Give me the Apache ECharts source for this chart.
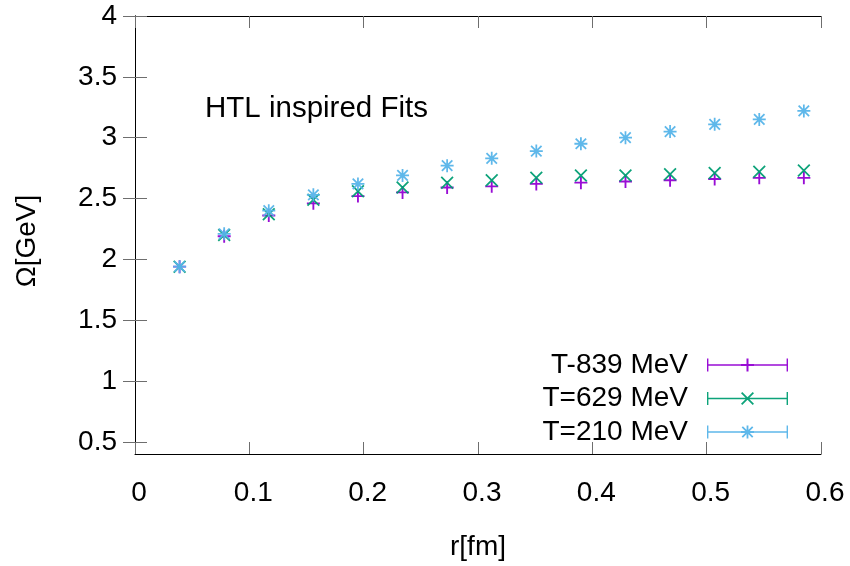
<!DOCTYPE html>
<html>
<head>
<meta charset="utf-8">
<script src="https://cdn.jsdelivr.net/npm/echarts@6/dist/echarts.min.js"></script>
<style>
html,body{margin:0;padding:0;background:#fff;}
#chart{width:850px;height:566px;}
</style>
</head>
<body>
<div id="chart"></div>
<script>
// ---- data ----
const rValues = [0.039, 0.078, 0.117, 0.156, 0.195, 0.234, 0.273, 0.312, 0.351, 0.390, 0.429, 0.468, 0.507, 0.546, 0.585];
const omegaT839 = [1.94, 2.19, 2.36, 2.46, 2.52, 2.55, 2.59, 2.60, 2.62, 2.63, 2.64, 2.65, 2.66, 2.67, 2.67];
const omegaT629 = [1.94, 2.20, 2.37, 2.49, 2.56, 2.59, 2.63, 2.65, 2.67, 2.69, 2.69, 2.70, 2.71, 2.72, 2.73];
const omegaT210 = [1.94, 2.21, 2.40, 2.53, 2.62, 2.69, 2.77, 2.83, 2.89, 2.95, 3.00, 3.05, 3.11, 3.15, 3.22];
const seriesNames = ['T-839 MeV', 'T=629 MeV', 'T=210 MeV'];
const yTickValues = [0.5, 1, 1.5, 2, 2.5, 3, 3.5, 4];
const annotation = 'HTL inspired Fits';
const xTitle = 'r[fm]';
const yTitle = 'Ω[GeV]';

// ---- styling ----
const FONT = 'Liberation Sans, Arial, Helvetica, sans-serif';
const colors = ['#9400d3', '#009e73', '#56b4e9'];

function rect(x0, y0, x1, y1) {
  return 'M' + x0 + ',' + y0 + 'H' + x1 + 'V' + y1 + 'H' + x0 + 'Z';
}
function plusPath(cx, cy, s, t) {
  const h = s / 2, ht = t / 2;
  return rect(cx - h, cy - ht, cx + h, cy + ht) + ' ' + rect(cx - ht, cy - h, cx + ht, cy + h);
}
function crossPath(cx, cy, s, t) {
  const h = s / 2, d = t / Math.SQRT2;
  const a = [cx - h, cy - h + d], b = [cx - h + d, cy - h], c = [cx + h, cy + h - d], e = [cx + h - d, cy + h];
  const p1 = 'M' + a + 'L' + b + 'L' + c + 'L' + e + 'Z';
  const f = [cx + h - d, cy - h], g = [cx + h, cy - h + d], k = [cx - h + d, cy + h], m = [cx - h, cy + h - d];
  const p2 = 'M' + f + 'L' + g + 'L' + k + 'L' + m + 'Z';
  return p1 + ' ' + p2;
}
function starPath(cx, cy, s, t) {
  return plusPath(cx, cy, s, t) + ' ' + crossPath(cx, cy, s * 0.9, t);
}
const markerPaths = [plusPath(7, 7, 14, 2), crossPath(7, 7, 14, 1.9), starPath(7, 7, 14, 1.9)];

// legend icon: errorbar-style sample 81 x 13
const LW = 81, LH = 13;
function legendBase() {
  return rect(0, 5.8, LW, 7.2) + ' ' + rect(0, 0, 1.4, LH) + ' ' + rect(LW - 1.4, 0, LW, LH);
}
const legendIcons = [
  legendBase() + ' ' + plusPath(LW / 2, LH / 2, 13, 2),
  legendBase() + ' ' + crossPath(LW / 2, LH / 2, 13, 1.8),
  legendBase() + ' ' + starPath(LW / 2, LH / 2, 13, 1.8)
];

const allY = [omegaT839, omegaT629, omegaT210];

const series = allY.map(function (ys, i) {
  return {
    name: seriesNames[i],
    type: 'scatter',
    data: rValues.map(function (r, j) { return [r, ys[j]]; }),
    symbol: 'path://' + markerPaths[i],
    symbolSize: 13,
    itemStyle: { color: colors[i], opacity: 0.95 },
    emphasis: { disabled: true },
    z: 2 + i
  };
});

const axisLineStyle = { lineStyle: { color: '#000', width: 1 } };
const tickStyle = { inside: true, length: 12, lineStyle: { color: '#6e6e6e', width: 1 } };

const option = {
  animation: false,
  backgroundColor: '#fff',
  textStyle: { fontFamily: FONT },
  grid: { left: 135, right: 29, top: 16, bottom: 104, containLabel: false },
  title: {
    text: annotation,
    left: 205, top: 94, padding: 0,
    textStyle: { fontFamily: FONT, fontSize: 29.5, fontWeight: 'normal', color: '#000' }
  },
  legend: {
    orient: 'vertical',
    align: 'right',
    right: 62,
    top: 351,
    padding: 0,
    itemGap: 5.5,
    itemWidth: LW,
    itemHeight: LH,
    selectedMode: false,
    textStyle: { fontFamily: FONT, fontSize: 28, color: '#000', padding: [0, 14, 0, 0] },
    data: seriesNames.map(function (n, i) { return { name: n, icon: 'path://' + legendIcons[i] }; })
  },
  xAxis: [
    {
      type: 'value', min: 0, max: 0.6, interval: 0.1,
      name: xTitle, nameLocation: 'middle', nameGap: 79,
      nameTextStyle: { fontFamily: FONT, fontSize: 28, color: '#000' },
      axisLine: axisLineStyle, axisTick: tickStyle,
      axisLabel: { fontFamily: FONT, fontSize: 28, color: '#000', margin: 25, padding: [0, 0, 0, 8] },
      splitLine: { show: false }
    },
    {
      type: 'value', position: 'top', min: 0, max: 0.6, interval: 0.1,
      axisLine: axisLineStyle, axisTick: tickStyle,
      axisLabel: { show: false }, splitLine: { show: false }
    }
  ],
  yAxis: [
    {
      type: 'value', min: 0.4, max: 4,
      name: yTitle, nameLocation: 'middle', nameGap: 94, nameRotate: 90,
      nameTextStyle: { fontFamily: FONT, fontSize: 28, color: '#000', padding: [0, 12, 0, 0] },
      axisLine: axisLineStyle,
      axisTick: Object.assign({ customValues: yTickValues }, tickStyle),
      axisLabel: { customValues: yTickValues, fontFamily: FONT, fontSize: 28, color: '#000', margin: 18, padding: [8, 0, 0, 0] },
      splitLine: { show: false }
    },
    {
      type: 'value', position: 'right', min: 0.4, max: 4,
      axisLine: axisLineStyle,
      axisTick: Object.assign({ customValues: yTickValues }, tickStyle),
      axisLabel: { show: false, customValues: yTickValues }, splitLine: { show: false }
    }
  ],
  series: series
};

const chart = echarts.init(document.getElementById('chart'), null, { renderer: 'canvas' });
chart.setOption(option);
</script>
</body>
</html>
